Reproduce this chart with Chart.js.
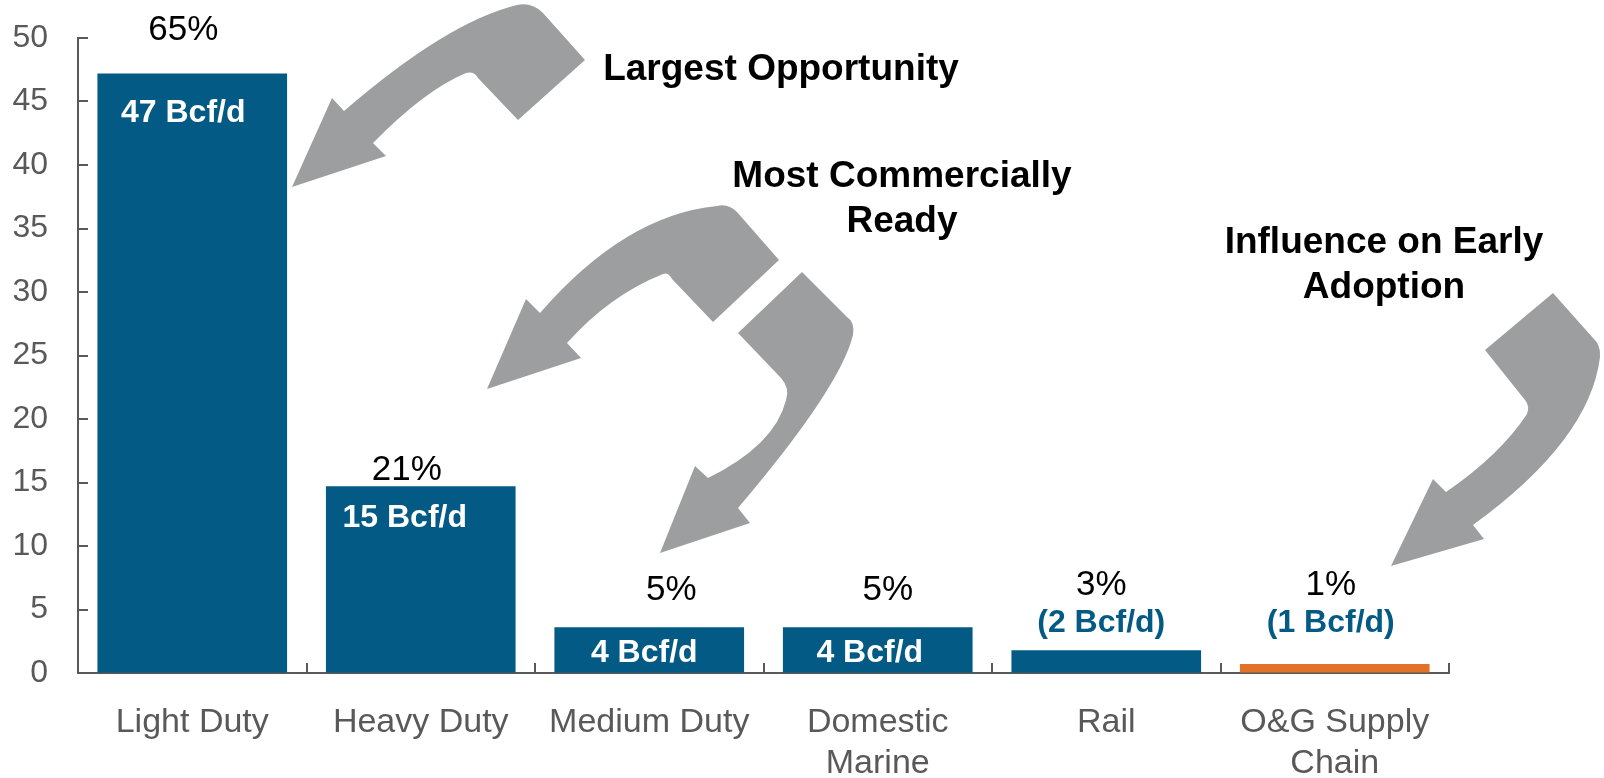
<!DOCTYPE html>
<html lang="en">
<head>
<meta charset="UTF-8" />
<title>Natural Gas Demand Potential by Segment</title>
<style>
  html, body { margin: 0; padding: 0; background: #fff; }
  #wrap { width: 1604px; height: 778px; }
</style>
</head>
<body>
<div id="wrap"><canvas id="demandChart" width="1604" height="778"></canvas></div>
<script src="https://cdn.jsdelivr.net/npm/chart.js"></script>
<script>
// segment data
const segments = ['Light Duty', 'Heavy Duty', 'Medium Duty', ['Domestic', 'Marine'], 'Rail', ['O&G Supply', 'Chain']];
const demandBcfd = [47.2, 14.7, 3.6, 3.6, 1.8, 0.7];
const sharePct = [65, 21, 5, 5, 3, 1];
const yTickValues = [0, 5, 10, 15, 20, 25, 30, 35, 40, 45, 50];

const FONT = '"Liberation Sans", Arial, Helvetica, sans-serif';
const BLUE = '#035b85';
const ORANGE = '#e07327';
const AXIS_GREY = '#595959';

// inward tick marks on both axes
const innerTicks = {
  id: 'innerTicks',
  afterDraw(chart) {
    const { ctx, scales: { x, y } } = chart;
    ctx.save();
    ctx.strokeStyle = AXIS_GREY;
    ctx.lineWidth = 2;
    ctx.beginPath();
    yTickValues.forEach(v => {
      const py = Math.round(y.getPixelForValue(v));
      ctx.moveTo(x.left, py);
      ctx.lineTo(x.left + 10, py);
    });
    const n = segments.length;
    for (let i = 0; i <= n; i++) {
      const px = Math.round(x.left + i * x.width / n);
      ctx.moveTo(px, y.bottom);
      ctx.lineTo(px, y.bottom - 10);
    }
    ctx.stroke();
    ctx.restore();
  }
};

// share and volume labels for each bar
const barLabels = {
  id: 'barLabels',
  afterDatasetsDraw(chart, args, opts) {
    const ctx = chart.ctx;
    const bars = chart.getDatasetMeta(0).data;
    ctx.save();
    ctx.textAlign = 'center';
    ctx.textBaseline = 'alphabetic';
    bars.forEach((bar, i) => {
      ctx.font = '35px ' + FONT;
      ctx.fillStyle = '#000';
      ctx.fillText(sharePct[i] + '%', bar.x + opts.pctDx[i], bar.y + opts.pctDy[i]);

      const v = Math.round(demandBcfd[i]);
      const inside = demandBcfd[i] >= 3;
      ctx.font = 'bold 32px ' + FONT;
      ctx.fillStyle = inside ? '#fff' : BLUE;
      const txt = inside ? v + ' Bcf/d' : '(' + v + ' Bcf/d)';
      ctx.fillText(txt, bar.x + opts.valDx[i], bar.y + opts.valDy[i]);
    });
    ctx.restore();
  }
};

// curved call-out arrows and their captions
const callouts = {
  id: 'callouts',
  afterDatasetsDraw(chart, args, opts) {
    const ctx = chart.ctx;
    ctx.save();
    ctx.fillStyle = opts.arrowColor;
    opts.arrows.forEach(path => {
      ctx.beginPath();
      path.forEach(s => {
        if (s[0] === 'M') ctx.moveTo(s[1], s[2]);
        else if (s[0] === 'L') ctx.lineTo(s[1], s[2]);
        else ctx.quadraticCurveTo(s[1], s[2], s[3], s[4]);
      });
      ctx.closePath();
      ctx.fill();
    });
    ctx.fillStyle = '#000';
    ctx.font = 'bold 37px ' + FONT;
    ctx.textAlign = 'center';
    ctx.textBaseline = 'alphabetic';
    opts.captions.forEach(c => {
      c.lines.forEach((line, k) => ctx.fillText(line, c.x, c.y + k * 45));
    });
    ctx.restore();
  }
};

const ctx = document.getElementById('demandChart').getContext('2d');
new Chart(ctx, {
  type: 'bar',
  data: {
    labels: segments,
    datasets: [{
      data: demandBcfd,
      backgroundColor: c => c.dataIndex === demandBcfd.length - 1 ? ORANGE : BLUE,
      borderWidth: 0,
      barPercentage: 0.83,
      categoryPercentage: 1.0
    }]
  },
  options: {
    responsive: false,
    animation: false,
    devicePixelRatio: 1,
    layout: { padding: { top: 38, right: 155, left: 0, bottom: 0 } },
    plugins: {
      legend: { display: false },
      tooltip: { enabled: false },
      barLabels: {
        pctDx: [-9, -14, 22, 10, -5, -4],
        pctDy: [-34, -6, -27, -27, -55, -69],
        valDx: [-9, -16, -5, -8, -5, -4],
        valDy: [48, 41, 35, 35, -18, -32]
      },
      callouts: {
        arrowColor: '#9d9ea0',
        captions: [
          { lines: ['Largest Opportunity'], x: 781, y: 80 },
          { lines: ['Most Commercially', 'Ready'], x: 902, y: 187 },
          { lines: ['Influence on Early', 'Adoption'], x: 1384, y: 253 }
        ],
        arrows: [
          [['M', 292, 187], ['L', 386, 156], ['L', 373, 143], ['Q', 425, 90, 466, 73],
           ['Q', 474, 71, 478, 78], ['L', 518, 120], ['L', 585, 60], ['L', 543, 13],
           ['Q', 532, 2, 517, 5], ['Q', 447, 22, 344, 111], ['L', 332, 98]],
          [['M', 487, 389], ['L', 581, 358], ['L', 567, 343], ['Q', 610, 295, 663, 274],
           ['Q', 668, 272, 672, 279], ['L', 713, 322], ['L', 779, 260], ['L', 737, 212],
           ['Q', 728, 203, 717, 206], ['Q', 625, 215, 540, 313], ['L', 526, 299]],
          [['M', 660, 553], ['L', 750, 523], ['L', 738, 508], ['Q', 840, 388, 853, 335],
           ['Q', 855, 322, 847, 317], ['L', 802, 272], ['L', 738, 333], ['L', 781, 378],
           ['Q', 790, 388, 786, 400], ['Q', 775, 445, 708, 478], ['L', 695, 466]],
          [['M', 1391, 566], ['L', 1484, 539], ['L', 1473, 525], ['Q', 1590, 440, 1600, 357],
           ['Q', 1601, 345, 1593, 338], ['L', 1553, 293], ['L', 1485, 350], ['L', 1525, 400],
           ['Q', 1530, 406, 1527, 414], ['Q', 1500, 455, 1446, 492], ['L', 1433, 479]]
        ]
      }
    },
    scales: {
      x: {
        afterFit: s => { s.height = 105; },
        grid: { display: true, drawOnChartArea: false, drawTicks: false },
        border: { display: true, color: AXIS_GREY, width: 2 },
        ticks: {
          color: AXIS_GREY,
          padding: 30,
          maxRotation: 0,
          autoSkip: false,
          font: { family: FONT, size: 34, lineHeight: 1.18 }
        }
      },
      y: {
        min: 0,
        max: 50,
        afterFit: s => { s.width = 78; s.paddingTop = 0; s.paddingBottom = 0; },
        afterBuildTicks: s => { s.ticks = yTickValues.map(v => ({ value: v })); },
        grid: { display: true, drawOnChartArea: false, drawTicks: false },
        border: { display: true, color: AXIS_GREY, width: 2 },
        ticks: {
          color: AXIS_GREY,
          padding: 30,
          font: { family: FONT, size: 32 }
        }
      }
    }
  },
  plugins: [innerTicks, barLabels, callouts]
});
</script>
</body>
</html>
